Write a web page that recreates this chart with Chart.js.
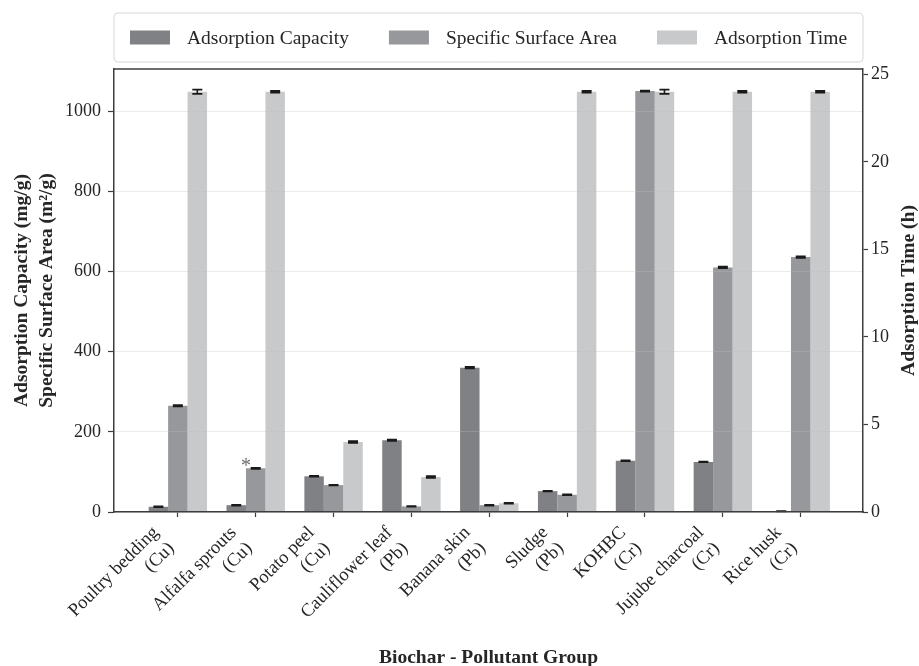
<!DOCTYPE html>
<html>
<head>
<meta charset="utf-8">
<script src="https://cdn.jsdelivr.net/npm/chart.js@4.4.1/dist/chart.umd.min.js"></script>
<style>
  html, body { margin: 0; padding: 0; background: #ffffff; }
  #wrap { width: 919px; height: 666px; }
</style>
</head>
<body>
<div id="wrap"><canvas id="chart" width="919" height="666"></canvas></div>
<script>
// Biochar materials and the pollutant each was tested against
const biochars = ['Poultry bedding', 'Alfalfa sprouts', 'Potato peel', 'Cauliflower leaf', 'Banana skin', 'Sludge', 'KOHBC', 'Jujube charcoal', 'Rice husk'];
const pollutants = ['Cu', 'Cu', 'Cu', 'Pb', 'Pb', 'Pb', 'Cr', 'Cr', 'Cr'];

// Adsorption capacity (mg/g) and its error
const adsorptionCapacity = [13, 17, 89, 179, 360, 52, 128, 125, 2];
const capacityError = [1, 1, 1, 1.5, 2, 1, 1, 1, 0.5];

// Specific surface area (m²/g) and its error
const surfaceArea = [265, 109, 67, 14, 17, 43, 1050, 610, 636];
const surfaceAreaError = [2, 1.5, 1, 1, 1, 1, 1.5, 2, 2];
const surfaceAreaNotes = ['', '*', '', '', '', '', '', '', ''];

// Adsorption time (h) and its error
const adsorptionTime = [24, 24, 4, 2, 0.5, 24, 24, 24, 24];
const timeError = [0.12, 0.05, 0.05, 0.05, 0.03, 0.05, 0.12, 0.05, 0.05];

const seriesNames = ['Adsorption Capacity', 'Specific Surface Area', 'Adsorption Time'];
const seriesColors = ['#808184', '#97989b', '#c8c9cb'];

const SERIF = "'Liberation Serif', 'Times New Roman', serif";
const TEXT = '#262626';
const AXIS = '#3d3d3d';

const tickLabels = biochars.map((b, i) => [b, '(' + pollutants[i] + ')']);
const toPoints = (arr) => arr.map((v, i) => ({ x: i, y: v }));

// Fixed plot-box geometry: axes keep a set size and ignore label overhang
const fixBox = (size) => (s) => {
  if (s.isHorizontal()) s.height = size; else s.width = size;
  s.paddingLeft = 0; s.paddingRight = 0; s.paddingTop = 0; s.paddingBottom = 0;
};

// Error bars drawn over each bar from the error arrays
const errorBars = {
  id: 'errorBars',
  afterDatasetsDraw(chart) {
    const ctx = chart.ctx;
    ctx.save();
    ctx.strokeStyle = '#1a1a1a';
    ctx.lineWidth = 1.6;
    chart.data.datasets.forEach((ds, di) => {
      const meta = chart.getDatasetMeta(di);
      const scale = chart.scales[ds.yAxisID];
      meta.data.forEach((bar, j) => {
        const v = ds.data[j].y, e = ds.errors[j];
        const yTop = scale.getPixelForValue(v + e);
        const yBot = scale.getPixelForValue(Math.max(0, v - e));
        const cap = 5;
        ctx.beginPath();
        ctx.moveTo(bar.x, yTop); ctx.lineTo(bar.x, yBot);
        ctx.moveTo(bar.x - cap, yTop); ctx.lineTo(bar.x + cap, yTop);
        ctx.moveTo(bar.x - cap, yBot); ctx.lineTo(bar.x + cap, yBot);
        ctx.stroke();
      });
      if (ds.notes) {
        ctx.fillStyle = '#6e6e6e';
        ctx.font = '20px ' + SERIF;
        ctx.textAlign = 'center';
        ctx.textBaseline = 'alphabetic';
        meta.data.forEach((bar, j) => {
          if (!ds.notes[j]) return;
          ctx.fillText(ds.notes[j], bar.x - bar.width / 2, bar.y + 4);
        });
      }
    });
    ctx.restore();
  }
};

// Framed legend above the plot, top frame line and right-hand axis title
const decorations = {
  id: 'decorations',
  afterDraw(chart) {
    const ctx = chart.ctx;
    const area = chart.chartArea;
    ctx.save();
    // top edge of the plot frame
    ctx.strokeStyle = AXIS;
    ctx.lineWidth = 1.5;
    ctx.beginPath();
    ctx.moveTo(area.left, area.top);
    ctx.lineTo(area.right, area.top);
    ctx.stroke();

    // legend box
    const bx = area.left, by = 13, bw = area.right - area.left, bh = 49, r = 4;
    ctx.beginPath();
    ctx.moveTo(bx + r, by);
    ctx.arcTo(bx + bw, by, bx + bw, by + bh, r);
    ctx.arcTo(bx + bw, by + bh, bx, by + bh, r);
    ctx.arcTo(bx, by + bh, bx, by, r);
    ctx.arcTo(bx, by, bx + bw, by, r);
    ctx.closePath();
    ctx.fillStyle = '#ffffff';
    ctx.fill();
    ctx.strokeStyle = '#d6d6d6';
    ctx.lineWidth = 1;
    ctx.stroke();

    ctx.font = '19.5px ' + SERIF;
    ctx.textBaseline = 'middle';
    ctx.textAlign = 'left';
    let x = bx + 16;
    const cy = by + bh / 2;
    chart.data.datasets.forEach((ds) => {
      ctx.fillStyle = ds.backgroundColor;
      ctx.fillRect(x, cy - 7, 40, 14);
      x += 40 + 17;
      ctx.fillStyle = TEXT;
      ctx.fillText(ds.label, x, cy + 1);
      x += ctx.measureText(ds.label).width + 40;
    });

    // right axis title, reading bottom to top
    ctx.save();
    ctx.translate(909, (area.top + area.bottom) / 2);
    ctx.rotate(-Math.PI / 2);
    ctx.font = 'bold 19.5px ' + SERIF;
    ctx.fillStyle = TEXT;
    ctx.textAlign = 'center';
    ctx.textBaseline = 'middle';
    ctx.fillText('Adsorption Time (h)', 0, 0);
    ctx.restore();
    ctx.restore();
  }
};

new Chart(document.getElementById('chart'), {
  type: 'bar',
  data: {
    datasets: [
      { label: seriesNames[0], data: toPoints(adsorptionCapacity), errors: capacityError, yAxisID: 'y', backgroundColor: seriesColors[0] },
      { label: seriesNames[1], data: toPoints(surfaceArea), errors: surfaceAreaError, notes: surfaceAreaNotes, yAxisID: 'y', backgroundColor: seriesColors[1] },
      { label: seriesNames[2], data: toPoints(adsorptionTime), errors: timeError, yAxisID: 'y1', backgroundColor: seriesColors[2] }
    ]
  },
  options: {
    responsive: false,
    animation: false,
    devicePixelRatio: 1,
    layout: { padding: { top: 69, left: 0, right: 0, bottom: 0 } },
    datasets: { bar: { categoryPercentage: 0.75, barPercentage: 1.0, borderWidth: 0 } },
    plugins: { legend: { display: false }, tooltip: { enabled: false } },
    scales: {
      x: {
        type: 'linear',
        offset: false,
        min: -0.82,
        max: 8.8,
        afterFit: fixBox(154),
        afterBuildTicks: (s) => { s.ticks = biochars.map((_, i) => ({ value: i })); },
        grid: { offset: false, drawOnChartArea: false, drawTicks: true, tickLength: 5, tickColor: AXIS, tickWidth: 1.2 },
        border: { display: true, color: AXIS, width: 1.5, z: 2 },
        ticks: {
          autoSkip: false,
          minRotation: 45,
          maxRotation: 45,
          padding: 5,
          labelOffset: -22,
          color: TEXT,
          font: { family: SERIF, size: 18.5, lineHeight: 1.2 },
          callback: (v) => tickLabels[v]
        },
        title: {
          display: true,
          text: 'Biochar - Pollutant Group',
          color: TEXT,
          font: { family: SERIF, size: 19.5, weight: 'bold', lineHeight: 0.8 },
          padding: { top: 0, bottom: 0 }
        }
      },
      y: {
        position: 'left',
        min: 0,
        max: 1105,
        afterFit: fixBox(114),
        grid: { color: 'rgba(190,190,190,0.3)', lineWidth: 1, z: 1, drawTicks: true, tickLength: 6, tickColor: AXIS, tickWidth: 1.2 },
        border: { display: true, color: AXIS, width: 1.5, z: 2 },
        ticks: {
          stepSize: 200,
          includeBounds: false,
          padding: 7,
          color: TEXT,
          font: { family: SERIF, size: 18 },
          callback: (v) => String(v)
        },
        title: {
          display: true,
          text: ['Adsorption Capacity (mg/g)', 'Specific Surface Area (m\u00B2/g)'],
          color: TEXT,
          font: { family: SERIF, size: 19.5, weight: 'bold', lineHeight: 1.28 },
          padding: { top: 9.5, bottom: 0 }
        }
      },
      y1: {
        position: 'right',
        min: 0,
        max: 25.3,
        afterFit: fixBox(56),
        grid: { drawOnChartArea: false, drawTicks: true, tickLength: 5, tickColor: AXIS, tickWidth: 1.2 },
        border: { display: true, color: AXIS, width: 1.5, z: 2 },
        ticks: {
          stepSize: 5,
          includeBounds: false,
          padding: 3,
          color: TEXT,
          font: { family: SERIF, size: 18 },
          callback: (v) => String(v)
        }
      }
    }
  },
  plugins: [errorBars, decorations]
});
</script>
</body>
</html>
